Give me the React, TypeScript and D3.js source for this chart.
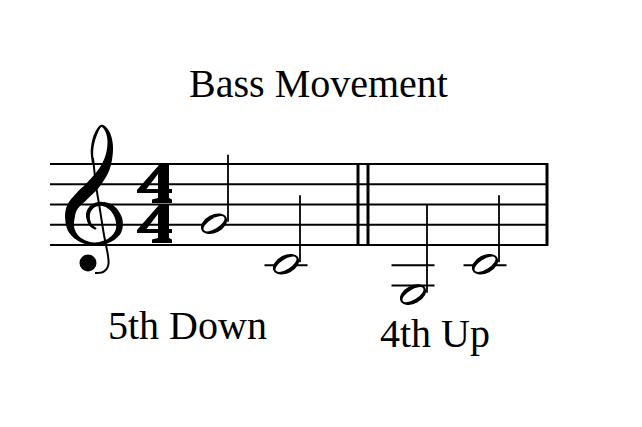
import React from 'react';
import * as d3 from 'd3';

// chart content
const title = 'Bass Movement';
const notePitches = ['G4', 'C4', 'G3', 'C4'];
const noteMeasures = [0, 0, 1, 1];
const noteBeats = [0, 2, 0, 2];
const intervalLabels = ['5th Down', '4th Up'];
const timeSig = ['4', '4'];

const W = 642;
const H = 427;
const staffLeft = 50;
const staffRight = 548;
const measureStarts = [168, 367];
const doubleBar = [358, 368];
const labelPos = [[108, 339], [380, 347]];
const serif = '"Liberation Serif", "Times New Roman", serif';

// diatonic step from middle C
const stepOf = (p: string) => 'CDEFGAB'.indexOf(p[0]) + 7 * (+p.slice(1) - 4);

const y = d3.scaleLinear().domain([2, 10]).range([245, 164]);
const beatX = d3.scaleLinear().domain([0, 4]).range([46, 190]);

type P = [number, number, number];

// variable-width ribbon along a catmull-rom centerline
function ribbon(pts: P[], steps = 12): string {
  const dense: P[] = [];
  for (let i = 0; i < pts.length - 1; i++) {
    const p0 = pts[Math.max(0, i - 1)], p1 = pts[i], p2 = pts[i + 1], p3 = pts[Math.min(pts.length - 1, i + 2)];
    for (let s = 0; s < steps; s++) {
      const t = s / steps, t2 = t * t, t3 = t2 * t;
      const f = (k: number) => 0.5 * (2 * p1[k] + (-p0[k] + p2[k]) * t + (2 * p0[k] - 5 * p1[k] + 4 * p2[k] - p3[k]) * t2 + (-p0[k] + 3 * p1[k] - 3 * p2[k] + p3[k]) * t3);
      dense.push([f(0), f(1), p1[2] + (p2[2] - p1[2]) * t]);
    }
  }
  dense.push(pts[pts.length - 1]);
  const left: [number, number][] = [];
  const right: [number, number][] = [];
  dense.forEach((p, i) => {
    const a = dense[Math.max(0, i - 1)], b = dense[Math.min(dense.length - 1, i + 1)];
    const dx = b[0] - a[0], dy = b[1] - a[1];
    const len = Math.hypot(dx, dy) || 1;
    const nx = -dy / len, ny = dx / len, h = p[2] / 2;
    left.push([p[0] + nx * h, p[1] + ny * h]);
    right.push([p[0] - nx * h, p[1] - ny * h]);
  });
  return d3.line()([...left, ...right.reverse()]) + 'Z';
}

const clefBody: P[] = [
  [93, 164, 2], [92, 150, 2.5], [95, 136, 3], [101, 126, 2], [107, 131, 3.5], [110, 142, 5],
  [109, 156, 7], [104, 170, 10], [94, 184, 12], [82, 196, 12], [73, 206, 11], [70, 216, 10],
  [71, 229, 7], [79, 239, 4], [93, 244, 3], [108, 241, 4], [118, 232, 6], [119, 220, 7],
  [113, 209, 6], [103, 204, 4], [93, 206, 4], [88, 214, 4], [90, 224, 3], [96, 229, 2],
];
const clefStem: P[] = [
  [93, 158, 2], [96, 185, 2], [100, 210, 2], [104, 235, 2], [108, 256, 2], [108, 266, 2],
  [103, 272, 2], [95, 273, 2],
];

// time signature digit "4" in a 35x38 box
const four = 'M22,0L32,0L32,24L35,24L35,28L32,28L32,33L35,34.5L35,38L15,38L15,34.5L21,33L21,28L0,28L0,25Z M21,9L21,24L9.5,24Z';

const App: React.FC = () => {
  const lineYs = d3.range(2, 11, 2).map(y);
  const notes = notePitches.map((p, i) => {
    const step = stepOf(p);
    const cx = measureStarts[noteMeasures[i]] + beatX(noteBeats[i]);
    const cy = y(step);
    const ledgers = d3.range(0, step - 1, -2).filter((s) => s <= 0);
    return { step, cx, cy, ledgers };
  });

  return (
    <svg width={W} height={H} style={{ position: 'absolute', left: 0, top: 0, background: '#fff' }}>
      <rect width={W} height={H} fill="#fff" />
      <text x={318.5} y={97} textAnchor="middle" fontFamily={serif} fontSize={40}>{title}</text>

      {lineYs.map((ly, i) => (
        <line key={i} x1={staffLeft} x2={staffRight} y1={ly} y2={ly} stroke="#000" strokeWidth={2} />
      ))}

      <path d={ribbon(clefBody)} fill="#000" />
      <path d={ribbon(clefStem)} fill="#000" />
      <circle cx={88} cy={263} r={8.5} fill="#000" />

      {timeSig.map((d, i) => (
        <path key={i} d={four} transform={`translate(137,${165 + i * 40})`} fill="#000" fillRule="evenodd" data-digit={d} />
      ))}

      {doubleBar.map((bx, i) => (
        <line key={i} x1={bx} x2={bx} y1={y(10) - 1} y2={y(2) + 1} stroke="#000" strokeWidth={3} />
      ))}
      <line x1={staffRight - 1} x2={staffRight - 1} y1={y(10) - 1} y2={y(2) + 1} stroke="#000" strokeWidth={3} />

      {notes.map((n, i) => {
        const stemTop = Math.min(n.cy - 70, y(6));
        return (
          <g key={i}>
            {n.ledgers.map((s) => (
              <line key={s} x1={n.cx - 21.5} x2={n.cx + 21.5} y1={y(s)} y2={y(s)} stroke="#000" strokeWidth={2} />
            ))}
            <ellipse cx={n.cx} cy={n.cy - 1} rx={14} ry={9} transform={`rotate(-28,${n.cx},${n.cy - 1})`} fill="#000" />
            <ellipse cx={n.cx} cy={n.cy - 1} rx={12} ry={5} transform={`rotate(-32,${n.cx},${n.cy - 1})`} fill="#fff" />
            <line x1={n.cx + 14} x2={n.cx + 14} y1={n.cy - 3} y2={stemTop} stroke="#000" strokeWidth={1.8} />
          </g>
        );
      })}

      {intervalLabels.map((t, i) => (
        <text key={i} x={labelPos[i][0]} y={labelPos[i][1]} fontFamily={serif} fontSize={40}>{t}</text>
      ))}
    </svg>
  );
};

export default App;
